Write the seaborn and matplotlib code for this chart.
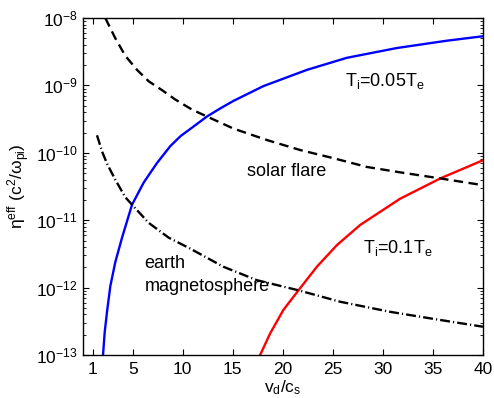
import numpy as np
import pandas as pd
import matplotlib
matplotlib.use("Agg")
import matplotlib.pyplot as plt
import matplotlib.ticker as mticker
import seaborn as sns

# ---- data ----
# T_i = 0.05 T_e (blue)
blue_x = [2.03, 2.2, 2.43, 2.76, 3.26, 3.93, 4.93, 6.1, 7.43, 8.76, 9.8, 10.8, 12.43, 13.76,
          15.06, 18.06, 22.4, 26.4, 31.4, 36.4, 40.0]
blue_y = [1.0e-13, 2.19e-13, 4.37e-13, 1.05e-12, 2.40e-12, 5.50e-12, 1.70e-11, 3.63e-11,
          7.08e-11, 1.26e-10, 1.78e-10, 2.29e-10, 3.47e-10, 4.57e-10, 5.89e-10, 9.77e-10,
          1.70e-9, 2.57e-9, 3.59e-9, 4.61e-9, 5.37e-9]

# T_i = 0.1 T_e (red)
red_x = [17.73, 18.73, 20.06, 21.56, 23.4, 25.4, 27.73, 31.73, 33.73, 35.73, 40.0]
red_y = [1.0e-13, 2.09e-13, 4.68e-13, 9.12e-13, 2.04e-12, 4.27e-12, 8.51e-12, 2.09e-11,
         2.95e-11, 4.17e-11, 7.76e-11]

# solar flare (dashed)
flare_x = [2.26, 3.26, 4.26, 5.43, 6.6, 7.93, 9.26, 10.93, 12.4, 15.06, 18.4, 21.73, 25.06,
           28.4, 31.73, 35.73, 40.0]
flare_y = [1.0e-8, 5.01e-9, 2.75e-9, 1.70e-9, 1.15e-9, 8.51e-10, 6.17e-10, 4.37e-10, 3.47e-10,
           2.29e-10, 1.55e-10, 1.10e-10, 8.32e-11, 6.17e-11, 5.13e-11, 4.17e-11, 3.31e-11]

# earth magnetosphere (dash-dot)
earth_x = [1.43, 1.93, 2.43, 3.26, 4.26, 4.93, 6.6, 8.6, 10.73, 14.06, 17.4, 21.56, 25.73,
           30.73, 35.73, 40.0]
earth_y = [1.82e-10, 1.05e-10, 6.92e-11, 3.98e-11, 2.19e-11, 1.70e-11, 9.12e-12, 5.50e-12,
           3.80e-12, 2.04e-12, 1.29e-12, 9.12e-13, 6.17e-13, 4.37e-13, 3.31e-13, 2.63e-13]

x_ticks = [1, 5, 10, 15, 20, 25, 30, 35, 40]

sns.set_style("ticks")
plt.rcParams["font.family"] = ["Liberation Sans", "DejaVu Sans"]
plt.rcParams["mathtext.fontset"] = "custom"
plt.rcParams["mathtext.rm"] = "Liberation Sans"
plt.rcParams["mathtext.it"] = "Liberation Sans"
plt.rcParams["mathtext.bf"] = "Liberation Sans:bold"
plt.rcParams["mathtext.sf"] = "Liberation Sans"
plt.rcParams["text.color"] = "black"
plt.rcParams["axes.labelcolor"] = "black"
plt.rcParams["xtick.color"] = "black"
plt.rcParams["ytick.color"] = "black"

fig = plt.figure(figsize=(4.94, 3.98), dpi=100)
ax = fig.add_axes([0.1674, 0.108, 0.8103, 0.8467])

lw = 1.7
sns.lineplot(x=blue_x, y=blue_y, ax=ax, color="#0000ff", lw=lw, estimator=None, sort=False)
sns.lineplot(x=red_x, y=red_y, ax=ax, color="#ff0000", lw=lw, estimator=None, sort=False)
sns.lineplot(x=flare_x, y=flare_y, ax=ax, color="black", lw=lw, estimator=None, sort=False)
sns.lineplot(x=earth_x, y=earth_y, ax=ax, color="black", lw=lw, estimator=None, sort=False)
lines = ax.get_lines()
lines[2].set_dashes((4.0, 2.3))
lines[3].set_dashes((4.2, 1.3, 0.5, 1.3))

ax.set_yscale("log")
ax.set_xlim(0, 40)
ax.set_ylim(1e-13, 1e-8)
ax.set_xticks(x_ticks)
ax.set_xticklabels([str(t) for t in x_ticks])
ax.yaxis.set_major_locator(mticker.LogLocator(base=10, numticks=10))
ax.yaxis.set_minor_locator(mticker.LogLocator(base=10, subs=np.arange(2, 10), numticks=20))
ax.yaxis.set_minor_formatter(mticker.NullFormatter())

for s in ax.spines.values():
    s.set_visible(True)
    s.set_linewidth(1.0)
    s.set_color("black")
ax.tick_params(which="both", direction="in", top=True, right=True, labelsize=12.5)
ax.tick_params(which="major", length=4.5, width=0.8)
ax.tick_params(which="minor", length=2.5, width=0.6)
ax.tick_params(axis="x", pad=5)

ax.set_xlabel(r"v$_\mathrm{d}$/c$_\mathrm{s}$", fontsize=12.5, labelpad=1)
ax.set_ylabel(r"$\mathrm{\eta}^\mathrm{eff}$ (c$^2$/$\mathrm{\omega}_\mathrm{pi}$)", fontsize=12.5, labelpad=3)

tfs = 13
ax.text(26.2, 9.8e-10, r"T$_\mathrm{i}$=0.05T$_\mathrm{e}$", fontsize=tfs, ha="left", va="baseline")
ax.text(16.4, 4.47e-11, "solar flare", fontsize=tfs, ha="left", va="baseline")
ax.text(6.2, 1.93e-12, "earth", fontsize=tfs, ha="left", va="baseline")
ax.text(6.2, 9.0e-13, "magnetosphere", fontsize=tfs, ha="left", va="baseline")
ax.text(28.06, 3.24e-12, r"T$_\mathrm{i}$=0.1T$_\mathrm{e}$", fontsize=tfs, ha="left", va="baseline")

fig.savefig("out.png", dpi=100)
